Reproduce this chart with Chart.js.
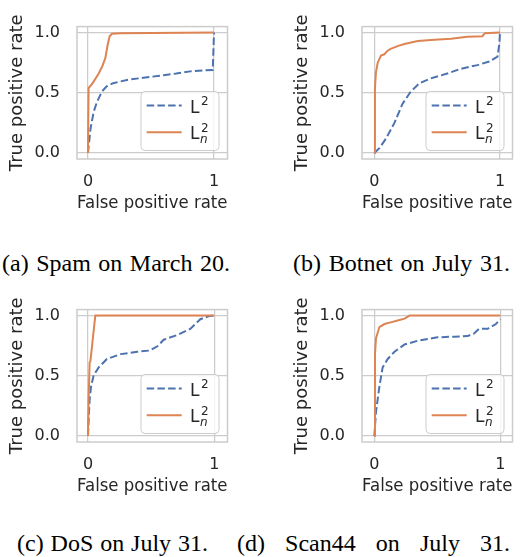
<!DOCTYPE html>
<html><head><meta charset="utf-8">
<script src="https://cdn.jsdelivr.net/npm/chart.js@4.4.0/dist/chart.umd.min.js"></script>
<style>
html,body{margin:0;padding:0;background:#fff;width:521px;height:557px;overflow:hidden;position:relative}
canvas{position:absolute}
.cap{position:absolute;font-family:'Liberation Serif','Times New Roman',serif;font-size:24px;line-height:24px;white-space:nowrap;color:#000}
</style></head><body>
<canvas id="ca" width="236" height="215" style="left:0px;top:0px;width:236px;height:215px"></canvas>
<canvas id="cb" width="236" height="215" style="left:285px;top:0px;width:236px;height:215px"></canvas>
<canvas id="cc" width="236" height="215" style="left:0px;top:283px;width:236px;height:215px"></canvas>
<canvas id="cd" width="236" height="215" style="left:285px;top:283px;width:236px;height:215px"></canvas>
<div class="cap" id="capA"></div>
<div class="cap" id="capB"></div>
<div class="cap" id="capC"></div>
<div class="cap" id="capD"></div>
<script>
// ---------- data ----------
// (a) Spam on March 20.
const spamL2Fpr  = [0, 0.01, 0.02, 0.045, 0.07, 0.11, 0.15, 0.2, 0.31, 0.44, 0.6, 0.7, 0.81, 0.92, 0.99, 1.0];
const spamL2Tpr  = [0, 0.1, 0.2, 0.34, 0.42, 0.51, 0.555, 0.58, 0.607, 0.625, 0.646, 0.66, 0.678, 0.686, 0.69, 1.0];
const spamLn2Fpr = [0, 0.005, 0.03, 0.058, 0.085, 0.116, 0.138, 0.156, 0.172, 0.19, 0.26, 1.0];
const spamLn2Tpr = [0, 0.54, 0.57, 0.615, 0.66, 0.726, 0.79, 0.897, 0.97, 0.99, 0.995, 1.0];
// (b) Botnet on July 31.
const botnetL2Fpr  = [0, 0.04, 0.093, 0.16, 0.225, 0.29, 0.36, 0.45, 0.58, 0.69, 0.82, 0.915, 0.98, 0.995, 1.0];
const botnetL2Tpr  = [0, 0.04, 0.12, 0.25, 0.41, 0.51, 0.58, 0.62, 0.66, 0.70, 0.73, 0.76, 0.80, 0.91, 1.0];
const botnetLn2Fpr = [0, 0.005, 0.013, 0.027, 0.053, 0.08, 0.106, 0.13, 0.19, 0.24, 0.345, 0.48, 0.61, 0.74, 0.86, 0.88, 1.0];
const botnetLn2Tpr = [0, 0.54, 0.67, 0.75, 0.81, 0.82, 0.85, 0.865, 0.89, 0.905, 0.93, 0.94, 0.95, 0.965, 0.97, 0.995, 1.0];
// (c) DoS on July 31.
const dosL2Fpr  = [0, 0.008, 0.013, 0.024, 0.045, 0.085, 0.15, 0.26, 0.39, 0.49, 0.55, 0.6, 0.71, 0.81, 0.89, 0.96, 1.0];
const dosL2Tpr  = [0, 0.2, 0.3, 0.41, 0.505, 0.57, 0.64, 0.68, 0.70, 0.71, 0.745, 0.80, 0.84, 0.89, 0.97, 0.997, 1.0];
const dosLn2Fpr = [0, 0.005, 0.013, 0.019, 0.058, 1.0];
const dosLn2Tpr = [0, 0.3, 0.61, 0.62, 1.0, 1.0];
// (d) Scan44 on July 31.
const scanL2Fpr  = [0, 0.013, 0.04, 0.066, 0.106, 0.16, 0.24, 0.34, 0.5, 0.635, 0.74, 0.79, 0.83, 0.9, 0.965, 1.0];
const scanL2Tpr  = [0, 0.2, 0.41, 0.57, 0.64, 0.70, 0.76, 0.79, 0.82, 0.825, 0.83, 0.85, 0.89, 0.89, 0.93, 0.97];
const scanLn2Fpr = [0, 0.005, 0.013, 0.04, 0.08, 0.13, 0.185, 0.24, 0.28, 1.0];
const scanLn2Tpr = [0, 0.68, 0.81, 0.905, 0.93, 0.944, 0.96, 0.975, 1.0, 1.0];

const xTickValues = [0, 1];
const yTickValues = [0, 0.5, 1];
const xTitle = 'False positive rate';
const yTitle = 'True positive rate';
const seriesLabels = ['L²', 'Lₙ²'];
const legendBase = ['L', 'L'];
const legendSup  = ['2', '2'];
const legendSub  = ['', 'n'];
const captions = ['(a) Spam on March 20.', '(b) Botnet on July 31.', '(c) DoS on July 31.', '(d) Scan44 on July 31.'];

// ---------- styling / layout ----------
const BLUE = '#4c72b0', ORANGE = '#dd8452', GRID = '#cccccc', TXT = '#262626';
const FONT = "'DejaVu Sans', sans-serif";

const framePlugin = {
  id: 'frame',
  beforeDatasetsDraw(chart) {
    const {ctx, chartArea: a} = chart;
    ctx.save();
    ctx.strokeStyle = GRID; ctx.lineWidth = 1.5;
    ctx.strokeRect(a.left, a.top, a.right - a.left, a.bottom - a.top);
    ctx.restore();
  }
};

function roundRect(ctx, x, y, w, h, r) {
  ctx.beginPath();
  ctx.moveTo(x + r, y); ctx.lineTo(x + w - r, y); ctx.arcTo(x + w, y, x + w, y + r, r);
  ctx.lineTo(x + w, y + h - r); ctx.arcTo(x + w, y + h, x + w - r, y + h, r);
  ctx.lineTo(x + r, y + h); ctx.arcTo(x, y + h, x, y + h - r, r);
  ctx.lineTo(x, y + r); ctx.arcTo(x, y, x + r, y, r); ctx.closePath();
}

const legendPlugin = {
  id: 'roclegend',
  afterDatasetsDraw(chart) {
    const {ctx, chartArea: a} = chart;
    const w = 78, h = 59;
    const right = a.right - 8.5, bottom = a.bottom - 8.5;
    const left = right - w, top = bottom - h;
    ctx.save();
    roundRect(ctx, left, top, w, h, 4);
    ctx.fillStyle = 'rgba(255,255,255,0.8)'; ctx.fill();
    ctx.strokeStyle = GRID; ctx.lineWidth = 1; ctx.stroke();
    chart.data.datasets.forEach((ds, i) => {
      const y = top + 14 + i * 26.7;
      ctx.beginPath();
      ctx.setLineDash(ds.borderDash || []);
      ctx.strokeStyle = ds.borderColor; ctx.lineWidth = ds.borderWidth;
      ctx.moveTo(left + 5.7, y); ctx.lineTo(left + 40.7, y); ctx.stroke();
      ctx.setLineDash([]);
      ctx.fillStyle = TXT; ctx.textAlign = 'left'; ctx.textBaseline = 'alphabetic';
      const base = y + 7;
      const tx = left + 49;
      ctx.font = '17px ' + FONT;
      ctx.fillText(legendBase[i], tx, base);
      const lw = ctx.measureText(legendBase[i]).width;
      ctx.font = '12px ' + FONT;
      ctx.fillText(legendSup[i], tx + lw + 1.5, base - 7.5);
      if (legendSub[i]) {
        ctx.font = 'italic 12px ' + FONT;
        ctx.fillText(legendSub[i], tx + lw + 0.5, base + 4);
      }
    });
    ctx.restore();
  }
};

function makeChart(id, l2x, l2y, lnx, lny, xmin, xmax) {
  const pts = (xs, ys) => xs.map((x, i) => ({x: x, y: ys[i]}));
  return new Chart(document.getElementById(id), {
    type: 'line',
    data: {datasets: [
      {label: seriesLabels[0], data: pts(l2x, l2y), borderColor: BLUE, borderWidth: 2,
       borderDash: [7.5, 3.2], pointRadius: 0, fill: false, tension: 0, order: 1},
      {label: seriesLabels[1], data: pts(lnx, lny), borderColor: ORANGE, borderWidth: 2,
       pointRadius: 0, fill: false, tension: 0, order: 0}
    ]},
    options: {
      responsive: false, animation: false, devicePixelRatio: 1,
      layout: {padding: {top: 20, right: 8.5, left: 0, bottom: 0}},
      plugins: {legend: {display: false}, tooltip: {enabled: false}},
      scales: {
        x: {
          type: 'linear', min: xmin, max: xmax,
          afterBuildTicks: s => { s.ticks = xTickValues.map(v => ({value: v})); },
          afterFit: s => { s.height = 56; },
          grid: {color: GRID, lineWidth: 1.25, drawTicks: false},
          border: {display: false},
          ticks: {padding: 13, color: TXT, font: {family: FONT, size: 16},
                  callback: v => String(v), maxRotation: 0},
          title: {display: true, text: xTitle, color: TXT,
                  font: {family: FONT, size: 18}, padding: {top: 0, bottom: 1}}
        },
        y: {
          type: 'linear', min: -0.05, max: 1.05,
          afterBuildTicks: s => { s.ticks = yTickValues.map(v => ({value: v})); },
          afterFit: s => { s.width = 77; },
          grid: {color: GRID, lineWidth: 1.25, drawTicks: false},
          border: {display: false},
          ticks: {padding: 17, color: TXT, font: {family: FONT, size: 16},
                  callback: v => v.toFixed(1)},
          title: {display: true, text: yTitle, color: TXT,
                  font: {family: FONT, size: 18}, padding: {top: 7, bottom: 0}}
        }
      }
    },
    plugins: [framePlugin, legendPlugin]
  });
}

makeChart('ca', spamL2Fpr, spamL2Tpr, spamLn2Fpr, spamLn2Tpr, -0.087, 1.107);
makeChart('cb', botnetL2Fpr, botnetL2Tpr, botnetLn2Fpr, botnetLn2Tpr, -0.098, 1.0995);
makeChart('cc', dosL2Fpr, dosL2Tpr, dosLn2Fpr, dosLn2Tpr, -0.087, 1.105);
makeChart('cd', scanL2Fpr, scanL2Tpr, scanLn2Fpr, scanLn2Tpr, -0.098, 1.097);

// captions: [id, left, right, baseline]
const capPlace = [['capA', 2, 230, 271], ['capB', 293, 510, 271], ['capC', 17, 208, 551], ['capD', 237, 510, 551]];
capPlace.forEach((p, i) => {
  const el = document.getElementById(p[0]);
  el.textContent = captions[i];
  const marker = document.createElement('span');
  marker.style.display = 'inline-block'; marker.style.width = '0px'; marker.style.height = '0px';
  el.appendChild(marker);
  const natural = el.getBoundingClientRect().width;
  const spaces = (captions[i].match(/ /g) || []).length;
  el.style.wordSpacing = ((p[2] - p[1]) - natural) / spaces + 'px';
  el.style.left = p[1] + 'px';
  el.style.top = '0px';
  const off = marker.getBoundingClientRect().top - el.getBoundingClientRect().top;
  el.style.top = (p[3] - off) + 'px';
});
</script>
</body></html>
